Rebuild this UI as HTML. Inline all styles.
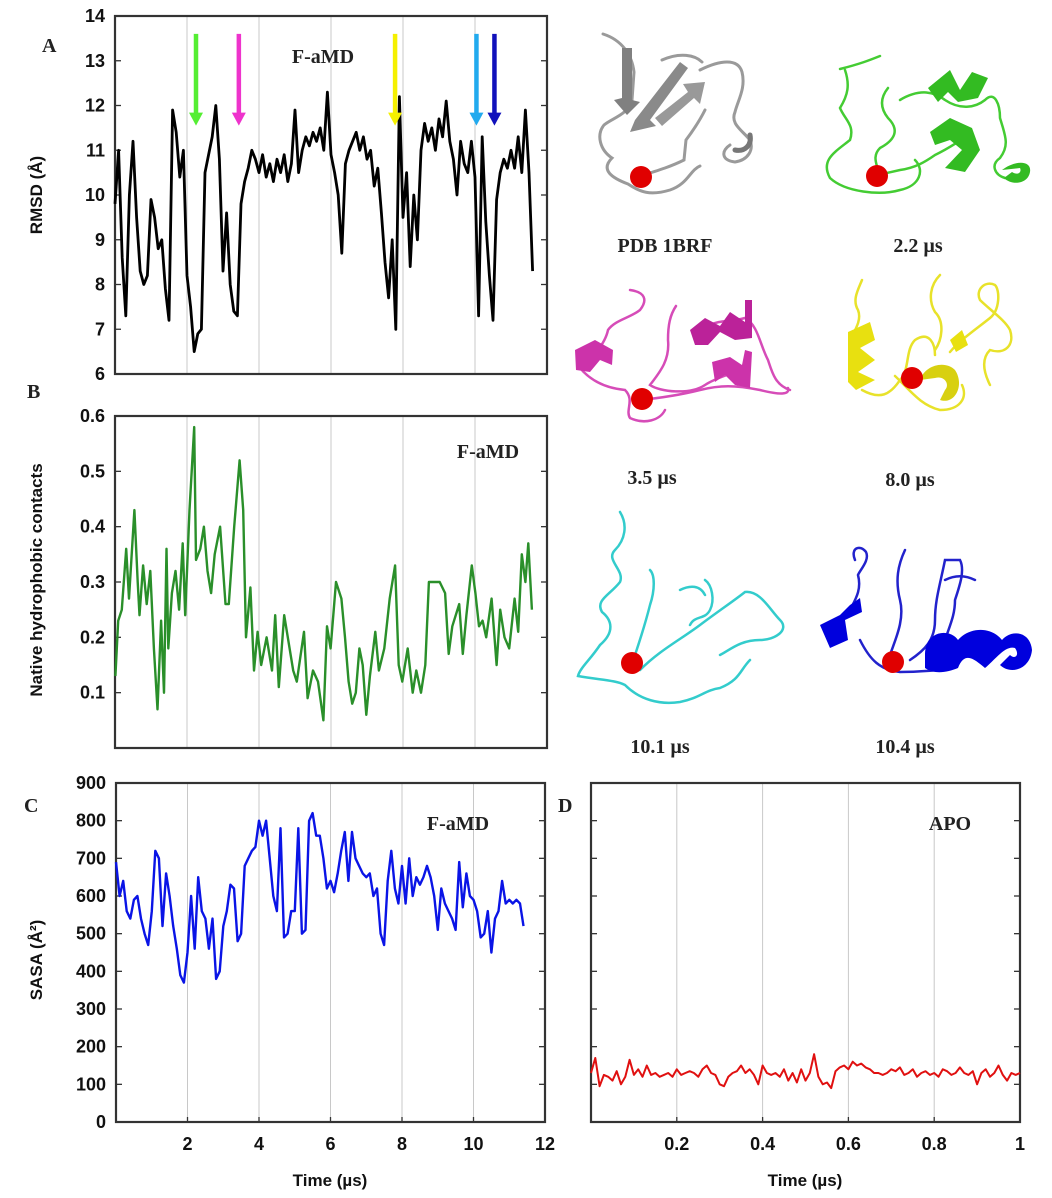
<!DOCTYPE html>
<html><head><meta charset="utf-8"><style>
html,body{margin:0;padding:0;background:#fff;}
svg{display:block;}
.tk{font-family:"Liberation Sans",sans-serif;font-weight:bold;font-size:18px;fill:#111;}
.ser{font-family:"Liberation Serif",serif;font-weight:bold;fill:#222;}
.ttl{font-family:"Liberation Sans",sans-serif;font-weight:bold;font-size:17px;fill:#111;}
</style></head><body>
<svg id="fig" width="1052" height="1198" viewBox="0 0 1052 1198" xmlns="http://www.w3.org/2000/svg">
<g id="structs">
  <g fill="none" stroke="#9a9a9a" stroke-width="3" stroke-linecap="round">
    <path d="M603,34 C622,40 632,55 634,72 L632,100 C628,115 612,118 604,125 C596,135 600,150 612,158 C600,170 612,178 628,184 C640,192 650,196 670,190 C688,184 690,170 700,166"/>
    <path d="M640,176 C660,170 672,166 684,160 L686,140 C692,132 700,120 705,110"/>
    <path d="M700,70 C720,60 738,58 742,72 C746,88 738,100 735,112 C730,124 742,130 750,140 C754,150 748,160 735,162 C720,160 722,150 730,145"/>
    <path d="M662,60 C680,52 695,55 702,62" />
    <polygon points="622,48 632,48 632,100 640,102 627,115 614,100 622,98" fill="#808080" stroke="none"/>
    <polygon points="635,120 680,62 688,68 650,120 656,126 630,132" fill="#8a8a8a" stroke="none"/>
    <polygon points="655,118 688,92 683,84 705,82 700,104 694,98 662,126" fill="#999" stroke="none"/>
    <path d="M735,150 C745,152 752,145 750,135" stroke="#777" stroke-width="5"/>
  </g>
  <circle cx="641" cy="177" r="11" fill="#e00000"/>
  <text class="ser" x="665" y="252" font-size="20" text-anchor="middle">PDB 1BRF</text>

  <g fill="none" stroke="#44cc33" stroke-width="2.5" stroke-linecap="round">
    <path d="M840,69 C860,64 870,60 880,56 M845,70 C850,85 848,95 840,108 C845,120 855,125 850,140 C835,152 820,160 830,178 C845,192 880,196 900,190 C920,186 925,170 915,160"/>
    <path d="M888,88 C880,98 880,108 888,118 C900,130 895,140 880,148 C870,158 880,168 878,175 L900,170 C915,168 925,162 935,155 C950,148 960,140 970,135"/>
    <path d="M900,100 C920,88 935,92 945,100 C960,110 975,108 985,100 C995,90 1000,105 1000,118 C1005,135 1010,145 1000,158 C990,165 995,175 1005,178"/>
  </g>
  <polygon points="928,88 950,70 960,90 972,72 988,78 978,98 958,102 948,92 938,102" fill="#33bb22"/>
  <polygon points="930,132 950,118 972,128 980,150 965,172 945,168 962,150 950,140 935,145" fill="#33bb22"/>
  <path d="M1002,170 C1015,160 1032,160 1030,172 C1028,184 1012,186 1004,178 L1012,172 C1018,176 1022,172 1020,168 Z" fill="#33bb22"/>
  <circle cx="877" cy="176" r="11" fill="#e00000"/>
  <text class="ser" x="918" y="252" font-size="20" text-anchor="middle">2.2 µs</text>

  <g fill="none" stroke="#d64cb8" stroke-width="2.5" stroke-linecap="round">
    <path d="M630,290 C645,292 648,300 640,310 C630,318 615,320 608,330 C605,345 590,360 580,368 C590,380 605,388 625,390 C635,400 625,410 630,418 C645,425 660,420 665,410"/>
    <path d="M676,306 C670,315 668,325 668,340 C670,360 660,372 650,385 C660,392 690,395 705,385 C720,375 735,375 745,365"/>
    <path d="M640,400 C660,398 680,395 700,390 C720,385 735,385 760,390 C780,395 790,395 788,388"/>
    <path d="M710,325 C720,320 730,322 745,318 C758,325 760,345 768,360 C772,372 775,385 790,390"/>
  </g>
  <polygon points="575,350 595,340 613,350 612,365 600,360 590,372 576,370" fill="#cc33aa"/>
  <polygon points="690,330 705,318 720,326 730,312 745,322 745,300 752,300 752,338 735,340 720,332 708,345 695,345" fill="#bb2299"/>
  <polygon points="712,362 730,357 742,365 745,350 752,352 750,388 735,385 725,375 715,382" fill="#cc33aa"/>
  <circle cx="642" cy="399" r="11" fill="#e00000"/>
  <text class="ser" x="652" y="484" font-size="20" text-anchor="middle">3.5 µs</text>

  <g fill="none" stroke="#e8e22a" stroke-width="2.5" stroke-linecap="round">
    <path d="M862,280 C858,290 852,300 858,310 C862,320 855,330 850,340 M862,390 C880,400 890,395 900,380 C910,370 905,350 915,340 C930,330 935,345 935,355 M895,376 C910,390 920,405 940,410 C960,410 968,398 962,385"/>
    <path d="M940,275 C930,285 928,300 935,312 C945,322 942,340 935,350 M950,352 C960,340 975,330 990,318 C1000,310 1000,290 995,285 C985,280 975,290 980,300 C990,310 1005,320 1010,330 C1015,345 1005,355 990,350 C980,360 985,375 990,385"/>
  </g>
  <polygon points="848,332 870,322 875,340 860,348 875,360 858,372 875,380 856,390 848,382" fill="#e8e010"/>
  <path d="M920,380 C925,365 945,360 955,370 C965,385 955,405 940,400 L945,390 C950,385 945,375 935,378 Z" fill="#d8d010"/>
  <polygon points="950,340 962,330 968,345 956,352" fill="#e8e010"/>
  <circle cx="912" cy="378" r="11" fill="#e00000"/>
  <text class="ser" x="910" y="486" font-size="20" text-anchor="middle">8.0 µs</text>

  <g fill="none" stroke="#33cccc" stroke-width="2.5" stroke-linecap="round">
    <path d="M620,512 C628,525 625,540 615,550 C605,560 625,570 620,582 C610,595 595,600 602,612 C612,620 615,632 600,645 C590,660 580,668 578,676 C600,680 615,680 625,685 C640,700 660,705 680,702 C700,698 705,690 720,688 C740,680 740,670 750,660"/>
    <path d="M650,570 C655,575 655,590 650,605 C645,625 640,640 635,655 M640,670 C660,650 680,640 700,625 C720,610 735,600 745,592 C760,590 770,610 780,620 C790,630 775,640 760,640 C740,640 730,650 720,655"/>
    <path d="M680,590 C690,585 700,585 705,595 M705,580 C712,585 715,600 710,610 C705,620 695,615 690,625"/>
  </g>
  <circle cx="632" cy="663" r="11" fill="#e00000"/>
  <text class="ser" x="660" y="753" font-size="20" text-anchor="middle">10.1 µs</text>

  <g fill="none" stroke="#2222cc" stroke-width="2.5" stroke-linecap="round">
    <path d="M855,560 C850,548 860,544 866,552 C870,560 860,570 858,575 C862,590 855,600 850,610 M860,640 C870,660 880,670 900,672 C920,672 935,670 945,670"/>
    <path d="M905,550 C898,565 895,580 900,600 C905,620 895,640 890,655 M910,660 C925,650 935,640 935,620 C935,600 940,585 945,560 L960,560 C965,570 960,585 955,600 C955,615 950,625 945,640"/>
    <path d="M945,580 C955,575 965,575 975,580"/>
  </g>
  <polygon points="820,625 840,615 850,605 860,598 862,612 845,620 848,640 830,648" fill="#0000dd"/>
  <path d="M925,655 C925,630 950,628 958,640 C968,628 990,625 1002,640 C1010,630 1030,630 1032,650 C1030,670 1010,675 1000,665 L1010,655 C1015,660 1020,655 1015,648 C1005,645 995,660 985,668 C975,660 965,650 958,668 C948,672 935,675 925,668 Z" fill="#0000dd"/>
  <circle cx="893" cy="662" r="11" fill="#e00000"/>
  <text class="ser" x="905" y="753" font-size="20" text-anchor="middle">10.4 µs</text>
</g>
<g id="charts"></g>
</svg>
<script>
const rmsdTimeStep = 0.1;
const rmsdValues = [9.8,11.0,8.6,7.3,10.0,11.2,9.5,8.3,8.0,8.2,9.9,9.5,8.8,9.0,7.9,7.2,11.9,11.4,10.4,11.0,
8.2,7.5,6.5,6.9,7.0,10.5,10.9,11.3,12.0,10.8,8.3,9.6,8.0,7.4,7.3,9.8,10.3,10.6,11.0,10.8,
10.5,10.9,10.4,10.7,10.3,10.8,10.5,10.9,10.3,10.7,11.9,10.5,11.0,11.3,11.1,11.4,11.2,11.5,11.0,12.3,
10.9,10.5,10.0,8.7,10.7,11.0,11.2,11.4,11.0,11.3,10.8,11.0,10.2,10.6,9.6,8.5,7.7,9.0,7.0,12.2,
9.5,10.5,8.4,10.0,9.0,11.0,11.6,11.2,11.5,11.0,11.7,11.3,12.1,11.2,10.8,10.0,11.2,10.7,10.5,11.2,
10.4,7.3,11.3,9.4,8.2,7.2,9.9,10.5,10.8,10.6,11.0,10.6,11.3,10.5,11.9,10.5,8.3];
const arrowTimes = [2.25,3.44,7.78,10.04,10.54];
const arrowColors = ['#55ee33','#ee33cc','#f5f000','#22aaee','#1111bb'];

const contactTimes = [0.01,0.09,0.19,0.31,0.39,0.54,0.63,0.68,0.78,0.88,0.98,1.08,1.18,1.28,1.36,1.43,1.48,1.58,1.68,1.78,1.88,1.95,2.07,2.20,2.25,2.37,2.47,2.57,2.67,2.77,2.92,3.07,3.16,3.31,3.46,3.56,3.64,3.76,3.86,3.96,4.06,4.21,4.36,4.45,4.55,4.70,4.85,4.95,5.05,5.25,5.35,5.50,5.64,5.79,5.89,5.99,6.14,6.29,6.39,6.49,6.59,6.69,6.79,6.88,6.98,7.08,7.23,7.33,7.48,7.63,7.78,7.88,7.98,8.13,8.27,8.37,8.50,8.62,8.72,8.87,9.02,9.17,9.27,9.37,9.56,9.66,9.76,9.91,10.01,10.11,10.21,10.31,10.46,10.60,10.70,10.82,10.95,11.10,11.20,11.30,11.40,11.48,11.58];
const contactValues = [0.13,0.23,0.25,0.36,0.27,0.43,0.30,0.24,0.33,0.26,0.32,0.18,0.07,0.23,0.10,0.36,0.18,0.28,0.32,0.25,0.37,0.24,0.43,0.58,0.34,0.36,0.40,0.32,0.28,0.35,0.40,0.26,0.26,0.40,0.52,0.43,0.20,0.29,0.14,0.21,0.15,0.20,0.14,0.24,0.11,0.24,0.18,0.14,0.12,0.21,0.09,0.14,0.12,0.05,0.22,0.18,0.30,0.27,0.20,0.12,0.08,0.10,0.18,0.15,0.06,0.13,0.21,0.14,0.18,0.27,0.33,0.15,0.12,0.18,0.10,0.14,0.10,0.15,0.30,0.30,0.30,0.28,0.17,0.22,0.26,0.17,0.24,0.33,0.28,0.22,0.23,0.20,0.27,0.15,0.25,0.20,0.18,0.27,0.21,0.35,0.30,0.37,0.25];

const sasaTimeStep = 0.1;
const sasaValues = [690,600,640,560,540,590,600,540,500,470,560,720,700,520,660,600,520,460,390,370,
450,600,460,650,560,540,460,540,380,400,520,560,630,620,480,500,680,700,720,730,
800,760,800,700,600,560,780,490,500,560,560,780,500,510,800,820,760,760,700,620,
640,610,660,720,770,640,770,700,680,660,650,660,600,620,500,470,640,720,620,580,
680,580,700,600,650,630,650,680,650,600,510,620,580,560,540,510,690,570,660,600,
590,560,490,500,560,450,540,560,640,580,590,580,590,580,520];

const apoTimeStep = 0.01;
const apoValues = [130,170,95,125,120,110,135,100,120,165,125,140,120,150,125,130,120,125,130,120,
140,125,130,135,130,120,140,150,130,125,100,95,120,130,135,150,130,140,125,100,
150,130,125,130,120,140,110,130,105,140,110,130,180,120,100,105,90,135,145,150,
140,160,150,155,145,140,130,130,125,130,140,135,145,125,130,140,120,130,135,125,
130,120,140,135,125,130,145,130,125,135,100,130,140,120,130,150,125,110,130,125,130];

const rmsdTicks = [6,7,8,9,10,11,12,13,14];
const contactTicks = [0.1,0.2,0.3,0.4,0.5,0.6];
const sasaTicks = [0,100,200,300,400,500,600,700,800,900];
const timeTicksC = [2,4,6,8,10,12];
const timeTicksD = [0.2,0.4,0.6,0.8,1];

const NS = 'http://www.w3.org/2000/svg';
const root = document.getElementById('charts');
function mk(tag, attrs, parent){
  const e = document.createElementNS(NS, tag);
  for (const k in attrs) e.setAttribute(k, attrs[k]);
  (parent||root).appendChild(e);
  return e;
}
function scale(d0,d1,r0,r1){ return v => r0 + (v-d0)/(d1-d0)*(r1-r0); }

function panel(name, box, xd, yd, xgrid, yticks, ylabels, xticks){
  const g = mk('g', {});
  
  
  const sx = scale(xd[0], xd[1], box.x0, box.x1);
  const sy = scale(yd[0], yd[1], box.y1, box.y0);
  xgrid.forEach(v => {
    const l = mk('line', {x1:sx(v), x2:sx(v), y1:box.y0, y2:box.y1, stroke:'#c8c8c8', 'stroke-width':1}, g);
    
    
  });
  yticks.forEach(v => {
    const y = sy(v);
    mk('line', {x1:box.x0, x2:box.x0+6, y1:y, y2:y, stroke:'#333', 'stroke-width':1.3}, g);
    mk('line', {x1:box.x1-6, x2:box.x1, y1:y, y2:y, stroke:'#333', 'stroke-width':1.3}, g);
    if (ylabels) {
      const t = mk('text', {x:box.x0-10, y:y+6, 'text-anchor':'end', class:'tk'}, g);
      
      
      t.textContent = String(v);
    }
  });
  if (xticks) xticks.forEach(v => {
    const x = sx(v);
    mk('line', {x1:x, x2:x, y1:box.y1-5, y2:box.y1, stroke:'#333', 'stroke-width':1.3}, g);
    const t = mk('text', {x:x, y:box.y1+28, 'text-anchor':'middle', class:'tk'}, g);
    
    
    t.textContent = String(v);
  });
  const r = mk('rect', {x:box.x0, y:box.y0, width:box.x1-box.x0, height:box.y1-box.y0, fill:'none', stroke:'#333', 'stroke-width':2.2}, g);
  
  
  return {g, sx, sy};
}
function series(p, xs, ys, color, w, name){
  let d = '';
  xs.forEach((x,i) => { d += (i ? 'L' : 'M') + p.sx(x).toFixed(1) + ',' + p.sy(ys[i]).toFixed(1); });
  const path = mk('path', {d, fill:'none', stroke:color, 'stroke-width':w, 'stroke-linejoin':'round'}, p.g);
  
  
}
function txt(x,y,s,cls,size,name,anchor,rot){
  const t = mk('text', {x, y, class:cls, 'font-size':size, 'text-anchor':anchor||'start'});
  if (rot) t.setAttribute('transform', 'rotate(-90 '+x+' '+y+')');
  
  
  t.textContent = s;
  return t;
}
const grid = [2,4,6,8,10];

const pA = panel('panel-a-rmsd', {x0:115,x1:547,y0:16,y1:374}, [0,12], [6,14], grid, rmsdTicks, true, null);
series(pA, rmsdValues.map((v,i)=>i*rmsdTimeStep), rmsdValues, '#000', 2.8, 'rmsd-line');
arrowTimes.forEach((t,i) => {
  const x = pA.sx(t), yTop = pA.sy(13.6), yTip = pA.sy(11.55);
  const a = mk('g', {}, pA.g);
  
  
  mk('line', {x1:x, x2:x, y1:yTop, y2:yTip-10, stroke:arrowColors[i], 'stroke-width':4.5}, a);
  mk('polygon', {points:(x-7)+','+(yTip-13)+' '+(x+7)+','+(yTip-13)+' '+x+','+yTip, fill:arrowColors[i]}, a);
});
txt(323, 63, 'F-aMD', 'ser', 20, 'panel-a-annotation', 'middle');
txt(42, 52, 'A', 'ser', 20, 'panel-a-label');
txt(42, 195, 'RMSD (Å)', 'ttl', 17, 'y-axis-title-rmsd', 'middle', true);

const pB = panel('panel-b-contacts', {x0:115,x1:547,y0:416,y1:748}, [0,12], [0,0.6], grid, contactTicks, true, null);
series(pB, contactTimes, contactValues, '#2a8f2a', 2.4, 'contacts-line');
txt(488, 458, 'F-aMD', 'ser', 20, 'panel-b-annotation', 'middle');
txt(27, 398, 'B', 'ser', 20, 'panel-b-label');
txt(42, 580, 'Native hydrophobic contacts', 'ttl', 17, 'y-axis-title-contacts', 'middle', true);

const pC = panel('panel-c-sasa', {x0:116,x1:545,y0:783,y1:1122}, [0,12], [0,900], grid, sasaTicks, true, timeTicksC);
series(pC, sasaValues.map((v,i)=>i*sasaTimeStep), sasaValues, '#0a14e6', 2.4, 'sasa-line');
txt(458, 830, 'F-aMD', 'ser', 20, 'panel-c-annotation', 'middle');
txt(24, 812, 'C', 'ser', 20, 'panel-c-label');
txt(42, 960, 'SASA (Å²)', 'ttl', 17, 'y-axis-title-sasa', 'middle', true);
txt(330, 1186, 'Time (µs)', 'ttl', 17, 'x-axis-title-c', 'middle');

const pD = panel('panel-d-apo', {x0:591,x1:1020,y0:783,y1:1122}, [0,1], [0,900], [0.2,0.4,0.6,0.8], sasaTicks, false, timeTicksD);
series(pD, apoValues.map((v,i)=>i*apoTimeStep), apoValues, '#e01010', 2, 'apo-sasa-line');
txt(950, 830, 'APO', 'ser', 20, 'panel-d-annotation', 'middle');
txt(558, 812, 'D', 'ser', 20, 'panel-d-label');
txt(805, 1186, 'Time (µs)', 'ttl', 17, 'x-axis-title-d', 'middle');
</script>
</body></html>
